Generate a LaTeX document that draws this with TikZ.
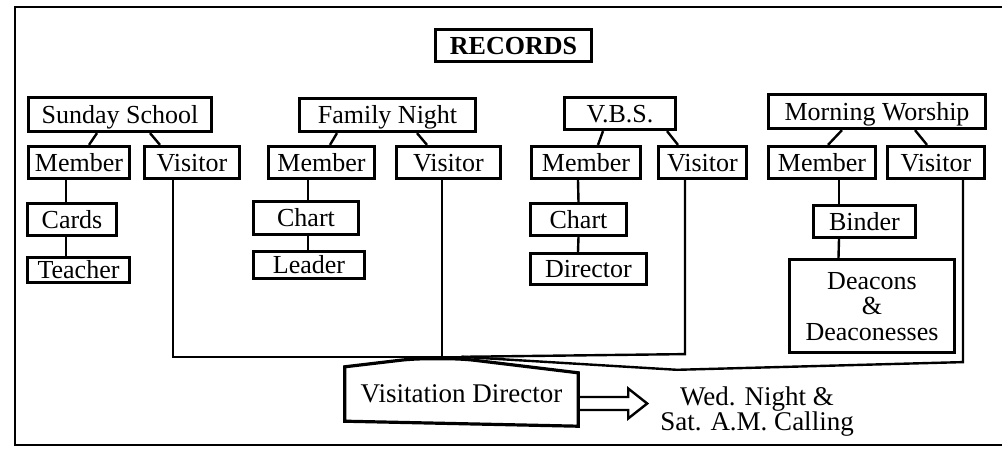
\documentclass[tikz,border=0pt]{standalone}
\usepackage{fontspec}
\setmainfont{Liberation Serif}
\usepackage{tikz}
\usetikzlibrary{calc}

\newcommand{\boxfont}{\fontsize{26pt}{25.5pt}\selectfont}
\newcommand{\bigfont}{\fontsize{27pt}{25pt}\selectfont}

\begin{document}
\begin{tikzpicture}[x=1pt, y=-1pt,
    box/.style={draw, line width=3.2pt, inner sep=0pt, font=\boxfont, text height=17pt, text depth=0pt},
    link/.style={line width=2.4pt}]
  \useasboundingbox (0,0) rectangle (1002,448);

  % Frame
  \draw[line width=2.8pt] (1002,7) -- (15,7) -- (15,445) -- (1002,445);

  % Title
  \node[box, font=\boxfont\bfseries, minimum width=156pt, minimum height=32pt] (records) at (513.5,45.5) {RECORDS};

  % Services
  \node[box, minimum width=183pt, minimum height=34pt] (ss) at (120,114.5) {Sunday School};
  \node[box, minimum width=176pt, minimum height=33pt] (fn) at (387.5,115) {Family Night};
  \node[box, minimum width=111pt, minimum height=32pt] (vbs) at (620,113.5) {V.B.S.};
  \node[box, minimum width=217pt, minimum height=34pt] (mw) at (877,111.5) {Morning Worship};

  % Member / Visitor
  \node[box, minimum width=101pt, minimum height=32pt] (ssm) at (79,162.5) {Member};
  \node[box, minimum width=95pt, minimum height=32pt] (ssv) at (192,162.5) {Visitor};
  \node[box, minimum width=106pt, minimum height=32pt] (fnm) at (321.5,162.5) {Member};
  \node[box, minimum width=104pt, minimum height=32pt] (fnv) at (448.5,162.5) {Visitor};
  \node[box, minimum width=109pt, minimum height=32pt] (vbsm) at (586,162.5) {Member};
  \node[box, minimum width=88pt, minimum height=32pt] (vbsv) at (702.5,162.5) {Visitor};
  \node[box, minimum width=107pt, minimum height=32pt] (mwm) at (822,162.5) {Member};
  \node[box, minimum width=97pt, minimum height=32pt] (mwv) at (936,162.5) {Visitor};

  % Member records
  \node[box, minimum width=89pt, minimum height=32pt] (sscards) at (72,219.5) {Cards};
  \node[box, minimum width=102pt, minimum height=25pt] (ssteach) at (78.5,270) {Teacher};
  \node[box, minimum width=105pt, minimum height=33pt] (fnchart) at (306,218) {Chart};
  \node[box, minimum width=111pt, minimum height=27pt] (fnlead) at (309,265) {Leader};
  \node[box, minimum width=96pt, minimum height=32pt] (vbschart) at (578.5,219.5) {Chart};
  \node[box, minimum width=116pt, minimum height=31pt] (vbsdir) at (588.5,269) {Director};
  \node[box, minimum width=102pt, minimum height=32pt] (mwbind) at (864.5,221.5) {Binder};
  \node[box, minimum width=165pt, minimum height=93pt, align=center, text height=68pt, text depth=0pt] (mwdeac) at (872,306) {Deacons\\\&\\Deaconesses};

  % Visitation
  \node[font=\bigfont, inner sep=0pt, minimum width=233pt, minimum height=59pt, text height=18pt, text depth=0pt] (vd) at (461.5,393.5) {Visitation Director};
  \draw[line width=3.2pt] ($(vd.south west)+(0,-2)$) -- ($(vd.north west)+(0,3)$)
    [rounded corners=12pt] -- ($(vd.north)+(-49,-5)$) -- ($(vd.north)+(1,-5)$)
    [sharp corners] -- ($(vd.north east)+(0,9)$) -- ($(vd.south east)+(0,3)$) -- cycle;
  \node[font=\bigfont, align=center, inner sep=0pt] (calling) at (757,412) {Wed. Night \&\\Sat. A.M. Calling};
  \draw[link] ($(vd.east)+(0,3.5)$) -- ++(50,0) -- ++(0,-8.5) -- ++(19,15) -- ++(-19,15) -- ++(0,-8.5) -- ++(-50,0);

  % Service to member / visitor
  \draw[link] ($(ss.south)+(-23,0)$) -- ($(ssm.north)+(10,0)$);
  \draw[link] ($(ss.south)+(30,0)$) -- ($(ssv.north)+(-32,0)$);
  \draw[link] ($(fn.south)+(-50.5,0)$) -- ($(fnm.north)+(8.5,0)$);
  \draw[link] ($(fn.south)+(29.5,0)$) -- ($(fnv.north)+(-21.5,0)$);
  \draw[link] ($(vbs.south)+(-17,0)$) -- ($(vbsm.north)+(12,0)$);
  \draw[link] ($(vbs.south)+(47,0)$) -- ($(vbsv.north)+(-24.5,0)$);
  \draw[link] ($(mw.south)+(-35,0)$) -- ($(mwm.north)+(6,0)$);
  \draw[link] ($(mw.south)+(38,0)$) -- ($(mwv.north)+(-9,0)$);

  % Member chains
  \draw[link] ($(ssm.south)+(-13,0)$) -- ($(sscards.north)+(-6,0)$);
  \draw[link] ($(sscards.south)+(-6,0)$) -- ($(ssteach.north)+(-12.5,0)$);
  \draw[link] ($(fnm.south)+(-13.5,0)$) -- ($(fnchart.north)+(2,0)$);
  \draw[link] ($(fnchart.south)+(2,0)$) -- ($(fnlead.north)+(-1,0)$);
  \draw[link] ($(vbsm.south)+(-8,0)$) -- (vbschart.north);
  \draw[link] (vbschart.south) -- ($(vbsdir.north)+(-10.5,0)$);
  \draw[link] ($(mwm.south)+(17,0)$) -- ($(mwbind.north)+(-25.5,0)$);
  \draw[link] ($(mwbind.south)+(-25.5,0)$) -- ($(mwdeac.north)+(-33.5,0)$);

  % Visitors to the visitation director
  \coordinate (hub) at ($(vd.north)+(0,-7)$);
  \draw[link] ($(ssv.south)+(-19,0)$) |- (hub);
  \draw[link] ($(fnv.south)+(-6.5,0)$) coordinate (fnvb) -- (fnvb |- hub);
  \draw[link] ($(vbsv.south)+(-17.5,0)$) coordinate (vbsvb) -- (vbsvb |- mwdeac.south) -- (hub);
  \draw[link] ($(mwv.south)+(27,0)$) coordinate (mwvb) -- ($(mwvb |- mwdeac.south)+(0,8)$)
    -- ($(vbsvb |- vd.north)+(-8,6)$) -- (hub);
\end{tikzpicture}
\end{document}
